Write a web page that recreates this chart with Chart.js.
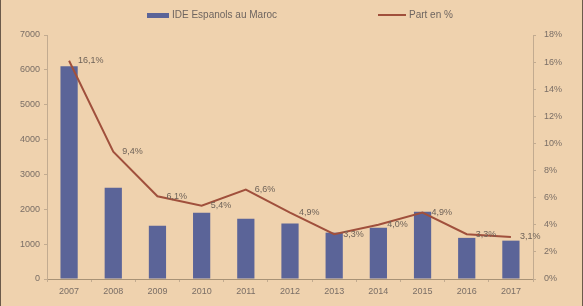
<!DOCTYPE html>
<html>
<head>
<meta charset="utf-8">
<script src="https://cdn.jsdelivr.net/npm/chart.js@4"></script>
<style>
  html, body { margin: 0; padding: 0; }
  body { width: 583px; height: 306px; background: #efd2ae; overflow: hidden; }
  #wrap { position: relative; width: 583px; height: 306px; box-sizing: border-box;
          border-left: 1px solid #6b5a4a; border-right: 1px solid #6b5a4a; }
  #myChart { position: absolute; left: 0; top: 0; }
  .leg { position: absolute; top: 9px; font: 10px 'Liberation Sans Narrow', 'Liberation Sans', sans-serif; color: #6e6560; white-space: nowrap; }
  .leg span { display: inline-block; vertical-align: middle; margin-right: 3px; }
</style>
</head>
<body>
<div id="wrap">
  <canvas id="myChart" width="583" height="306"></canvas>
  <div class="leg" style="left:146px"><span style="width:22px;height:5px;background:#5b6498"></span>IDE Espanols au Maroc</div>
  <div class="leg" style="left:377px"><span style="width:28px;height:2px;background:#a0503c"></span>Part en %</div>
</div>
<script>
const years = ['2007', '2008', '2009', '2010', '2011', '2012', '2013', '2014', '2015', '2016', '2017'];
const ideValues = [6100, 2620, 1530, 1900, 1730, 1590, 1330, 1470, 1930, 1180, 1100];
const partValues = [16.1, 9.4, 6.1, 5.4, 6.6, 4.9, 3.3, 4.0, 4.9, 3.3, 3.1];

const textColor = '#7a6e66';
const axisColor = '#c2ab90';
const font = { family: "'Liberation Sans Narrow', 'Liberation Sans', sans-serif", size: 9 };

// labels next to the line points, like "9,4%"
const pointLabels = {
    id: 'pointLabels',
    afterDatasetsDraw(chart) {
        const ctx = chart.ctx;
        const meta = chart.getDatasetMeta(1);
        ctx.save();
        ctx.font = "9px 'Liberation Sans Narrow', 'Liberation Sans', sans-serif";
        ctx.fillStyle = '#6e6258';
        ctx.textAlign = 'left';
        ctx.textBaseline = 'middle';
        meta.data.forEach((pt, i) => {
            const txt = partValues[i].toFixed(1).replace('.', ',') + '%';
            ctx.fillText(txt, pt.x + 9, pt.y);
        });
        ctx.restore();
    }
};

const ctx = document.getElementById('myChart').getContext('2d');
new Chart(ctx, {
    data: {
        labels: years,
        datasets: [
            {
                type: 'bar',
                label: 'IDE Espanols au Maroc',
                data: ideValues,
                backgroundColor: '#5b6498',
                yAxisID: 'y',
                barPercentage: 0.39,
                categoryPercentage: 1,
                order: 2
            },
            {
                type: 'line',
                label: 'Part en %',
                data: partValues,
                borderColor: '#a0503c',
                borderWidth: 2,
                pointRadius: 0,
                tension: 0,
                yAxisID: 'y1',
                order: 1
            }
        ]
    },
    options: {
        responsive: false,
        animation: false,
        layout: { padding: { top: 35, left: 0, right: 0, bottom: 0 } },
        plugins: {
            legend: { display: false },
            tooltip: { enabled: false }
        },
        scales: {
            x: {
                offset: true,
                grid: { display: true, drawOnChartArea: false, tickLength: 3, color: axisColor, offset: true },
                border: { color: '#a89276', width: 1 },
                ticks: { color: textColor, font: font, padding: 4 },
                afterFit: (s) => { s.height = 27; }
            },
            y: {
                position: 'left',
                min: 0,
                max: 7000,
                grid: { display: true, drawOnChartArea: false, tickLength: 3, color: axisColor },
                border: { color: axisColor },
                ticks: { stepSize: 1000, color: textColor, font: font, padding: 4, callback: v => String(v) },
                afterFit: (s) => { s.width = 46; }
            },
            y1: {
                position: 'right',
                min: 0,
                max: 18,
                grid: { display: true, drawOnChartArea: false, tickLength: 3, color: axisColor },
                border: { color: axisColor },
                ticks: { stepSize: 2, color: textColor, font: font, padding: 8, callback: v => v + '%' },
                afterFit: (s) => { s.width = 51; }
            }
        }
    },
    plugins: [pointLabels]
});
</script>
</body>
</html>
